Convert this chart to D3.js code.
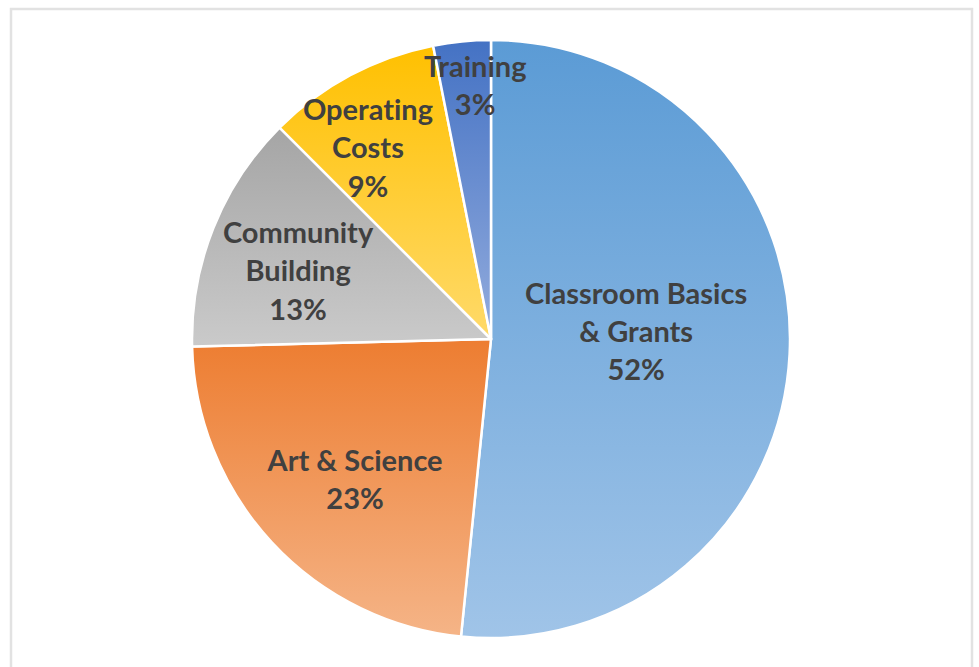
<!DOCTYPE html>
<html>
<head>
<meta charset="utf-8">
<script src="https://cdn.jsdelivr.net/npm/d3@7"></script>
<style>
    body { margin: 0; background: #fff; }
    text { font-variant-ligatures: none; font-feature-settings: "liga" 0; }
</style>
</head>
<body>
<div id="chart"></div>
<script>
// slice data, clockwise from 12 o'clock
const categories = ["Classroom Basics\n& Grants", "Art & Science", "Community\nBuilding", "Operating\nCosts", "Training"];
const values = [51.6, 23.0, 12.9, 9.4, 3.1];
const topColors = ["#5B9BD5", "#ED7D31", "#A5A5A5", "#FFC000", "#4472C4"];
const bottomColors = ["#A0C4E8", "#F5B487", "#CACACA", "#FFDA6A", "#93ACDD"];
// label placement (Excel best-fit): distance as fraction of radius, angle nudge in degrees
const labelRadius = [0.486, 0.655, 0.684, 0.76, 0.848];
const labelAngleShift = [-5.7, -3.2, -2.4, -4.7, 2.0];

function main() {
    let width = 979;
    let height = 667;
    let cx = 491, cy = 339, r = 299;

    let svg = d3.select("#chart").append("svg")
        .attr("width", width)
        .attr("height", height);

    // outer frame
    svg.append("rect")
        .attr("x", 11)
        .attr("y", 9)
        .attr("width", 961)
        .attr("height", 680)
        .attr("fill", "none")
        .attr("stroke", "#e2e2e2")
        .attr("stroke-width", 2.5);

    let defs = svg.append("defs");
    values.forEach(function(v, i) {
        let g = defs.append("linearGradient")
            .attr("id", "grad" + i)
            .attr("x1", 0).attr("y1", 0)
            .attr("x2", 0).attr("y2", 1);
        g.append("stop").attr("offset", "0%").attr("stop-color", topColors[i]);
        g.append("stop").attr("offset", "100%").attr("stop-color", bottomColors[i]);
    });

    let total = d3.sum(values);
    let pie = d3.pie().sort(null).value(function(d) { return d; });
    let arcs = pie(values);
    let arc = d3.arc().innerRadius(0).outerRadius(r);

    let g = svg.append("g")
        .attr("transform", "translate(" + cx + ", " + cy + ")");

    g.selectAll("path")
        .data(arcs)
        .enter()
        .append("path")
        .attr("d", arc)
        .attr("fill", function(d, i) { return "url(#grad" + i + ")"; })
        .attr("stroke", "#fff")
        .attr("stroke-width", 2.5)
        .attr("stroke-linejoin", "round");

    let lineH = 38.5;
    let labels = g.selectAll("text")
        .data(arcs)
        .enter()
        .append("text")
        .attr("text-anchor", "middle")
        .attr("font-family", "Lato, sans-serif")
        .attr("font-weight", "bold")
        .attr("font-size", "29px")
        .attr("fill", "#404040")
        .attr("transform", function(d, i) {
            let a = (d.startAngle + d.endAngle) / 2 + labelAngleShift[i] * Math.PI / 180;
            let rr = r * labelRadius[i];
            return "translate(" + (rr * Math.sin(a)) + ", " + (-rr * Math.cos(a)) + ")";
        });

    labels.each(function(d, i) {
        let lines = categories[i].split("\n");
        lines.push(Math.round(d.value / total * 100) + "%");
        let t = d3.select(this);
        let start = -(lines.length - 1) / 2 * lineH;
        lines.forEach(function(s, k) {
            t.append("tspan")
                .attr("x", 0)
                .attr("y", start + k * lineH)
                .attr("dy", "0.35em")
                .text(s);
        });
    });
}

main();
</script>
</body>
</html>
